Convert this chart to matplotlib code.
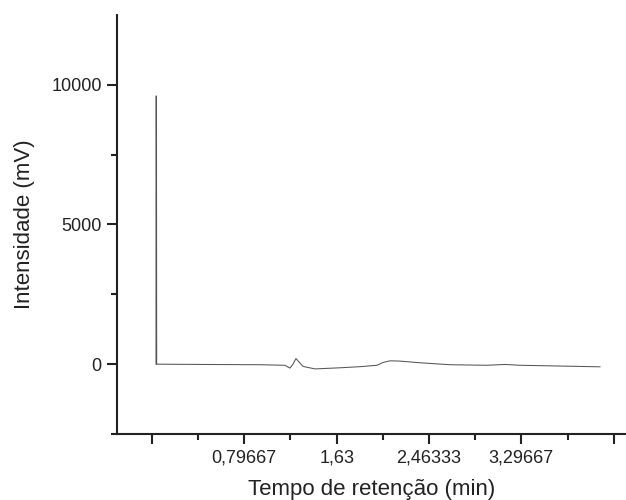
import matplotlib
matplotlib.use("Agg")
import matplotlib.pyplot as plt
from matplotlib.ticker import FixedLocator, FixedFormatter

plt.rcParams['font.family'] = ['Liberation Sans', 'DejaVu Sans']

# Data
time_min = [0.0, 0.0, 0.004, 0.006, 0.397, 0.938, 1.163, 1.209, 1.236, 1.263, 1.290, 1.326,
            1.434, 1.660, 1.840, 1.994, 2.048, 2.111, 2.201, 2.382, 2.653, 2.987,
            3.149, 3.285, 3.556, 4.006]
intensity_mv = [0, 9600, 9600, 0, -10, -20, -40, -140, 0, 200, 80, -80,
                -170, -130, -90, -40, 60, 120, 110, 50, -20, -40,
                -10, -40, -60, -95]

xmajor = [-0.03667, 0.79667, 1.63, 2.46333, 3.29667, 4.13]
xmajor_labels = ['', '0,79667', '1,63', '2,46333', '3,29667', '']
xminor = [0.38, 1.21333, 2.04667, 2.88, 3.71333]
ymajor = [0, 5000, 10000]
ymajor_labels = ['0', '5000', '10000']
yminor = [-2500, 2500, 7500]

fig = plt.figure(figsize=(6.26, 5.0), dpi=100)
ax = fig.add_axes([117/626, 1-434/500, 1-117/626, (434-15)/500])

ax.plot(time_min, intensity_mv, color='#555555', linewidth=0.75)

ax.set_xlim(-0.352, 4.241)
ax.set_ylim(-2500, 12500)

ax.spines['top'].set_visible(False)
ax.spines['right'].set_visible(False)
for s in ('left', 'bottom'):
    ax.spines[s].set_linewidth(1.5)
    ax.spines[s].set_color('#222222')

ax.xaxis.set_major_locator(FixedLocator(xmajor))
ax.xaxis.set_major_formatter(FixedFormatter(xmajor_labels))
ax.xaxis.set_minor_locator(FixedLocator(xminor))
ax.yaxis.set_major_locator(FixedLocator(ymajor))
ax.yaxis.set_major_formatter(FixedFormatter(ymajor_labels))
ax.yaxis.set_minor_locator(FixedLocator(yminor))

ax.tick_params(which='major', direction='out', length=7, width=1.5, color='#222222',
               labelsize=13, labelcolor='#222222', pad=4)
ax.tick_params(which='minor', direction='out', length=4, width=1.5, color='#222222')

ax.set_xlabel('Tempo de retenção (min)', fontsize=16, color='#222222', labelpad=9)
ax.set_ylabel('Intensidade (mV)', fontsize=16, color='#222222', labelpad=12)

fig.savefig('out.png', dpi=100)
